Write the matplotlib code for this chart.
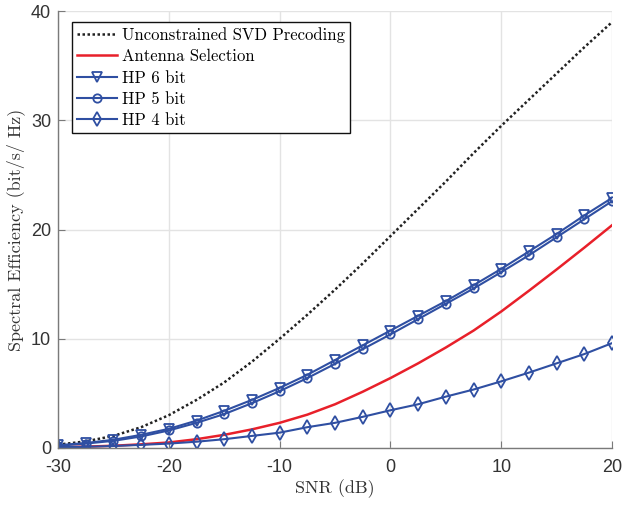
import matplotlib
matplotlib.use("Agg")
import matplotlib.pyplot as plt

plt.rcParams["axes.unicode_minus"] = False
plt.rcParams["mathtext.fontset"] = "cm"

snr = [-30, -27.5, -25, -22.5, -20, -17.5, -15, -12.5, -10, -7.5, -5,
       -2.5, 0, 2.5, 5, 7.5, 10, 12.5, 15, 17.5, 20]

svd = [0.3, 0.6, 1.1, 1.9, 3.0, 4.4, 6.0, 7.9, 10.0, 12.2, 14.5,
       16.9, 19.4, 21.9, 24.4, 27.0, 29.5, 31.9, 34.3, 36.7, 39.0]
antenna = [0.07, 0.12, 0.2, 0.33, 0.5, 0.8, 1.2, 1.7, 2.3, 3.05, 4.0,
           5.15, 6.4, 7.75, 9.2, 10.75, 12.5, 14.4, 16.35, 18.35, 20.4]
hp6 = [0.25, 0.45, 0.75, 1.2, 1.75, 2.5, 3.4, 4.4, 5.5, 6.7, 8.05,
       9.4, 10.75, 12.1, 13.45, 14.9, 16.4, 18.0, 19.6, 21.3, 22.9]
hp5 = [0.2, 0.4, 0.65, 1.05, 1.6, 2.3, 3.1, 4.1, 5.2, 6.4, 7.7,
       9.05, 10.4, 11.8, 13.2, 14.6, 16.1, 17.65, 19.3, 20.95, 22.6]
hp4 = [0.07, 0.1, 0.18, 0.28, 0.4, 0.57, 0.8, 1.1, 1.4, 1.9, 2.3,
       2.85, 3.45, 4.0, 4.7, 5.35, 6.1, 6.9, 7.75, 8.6, 9.6]

blue = "#2F4FA2"
red = "#E8202A"

fig = plt.figure(figsize=(6.24, 5.05), dpi=100)
ax = fig.add_axes([0.093, 0.113, 0.888, 0.865])

ax.plot(snr, svd, color="#222222", linestyle=(0, (1, 1)), linewidth=1.8,
        label="Unconstrained SVD Precoding")
ax.plot(snr, antenna, color=red, linewidth=1.8, label="Antenna Selection")
ax.plot(snr, hp6, color=blue, linewidth=1.5, marker="v", markersize=7,
        markerfacecolor="none", markeredgewidth=1.3, label="HP 6 bit")
ax.plot(snr, hp5, color=blue, linewidth=1.5, marker="o", markersize=6,
        markerfacecolor="none", markeredgewidth=1.3, label="HP 5 bit")
ax.plot(snr, hp4, color=blue, linewidth=1.5, marker="d", markersize=7,
        markerfacecolor="none", markeredgewidth=1.3, label="HP 4 bit")

ax.set_xlim(-30, 20)
ax.set_ylim(0, 40)
ax.set_xticks([-30, -20, -10, 0, 10, 20])
ax.set_yticks([0, 10, 20, 30, 40])
ax.grid(True, color="#e3e3e3", linewidth=1.0)
ax.set_axisbelow(True)

for s in ["top", "right"]:
    ax.spines[s].set_visible(False)
for s in ["left", "bottom"]:
    ax.spines[s].set_color("#7a7a7a")
    ax.spines[s].set_linewidth(1.0)

ax.tick_params(direction="in", length=5, color="#7a7a7a", labelcolor="#333333",
               labelsize=13)
ax.tick_params(axis="x", pad=8)
ax.tick_params(axis="y", pad=5)
for lab in ax.get_xticklabels() + ax.get_yticklabels():
    lab.set_family("Liberation Sans")

ax.set_xlabel("SNR (dB)", family="cmr10", fontsize=13, color="#333333",
              labelpad=2)
ax.set_ylabel("Spectral Efficiency (bit/s/ Hz)", family="cmr10", fontsize=13,
              color="#333333")

leg = ax.legend(loc="upper left", bbox_to_anchor=(0.01, 0.994),
                prop={"family": "cmr10", "size": 12}, fancybox=False,
                edgecolor="#111111", framealpha=1, handlelength=2.4,
                borderpad=0.3, labelspacing=0.36, handletextpad=0.3)
leg.get_frame().set_linewidth(1.0)

fig.savefig("out.png", dpi=100)
